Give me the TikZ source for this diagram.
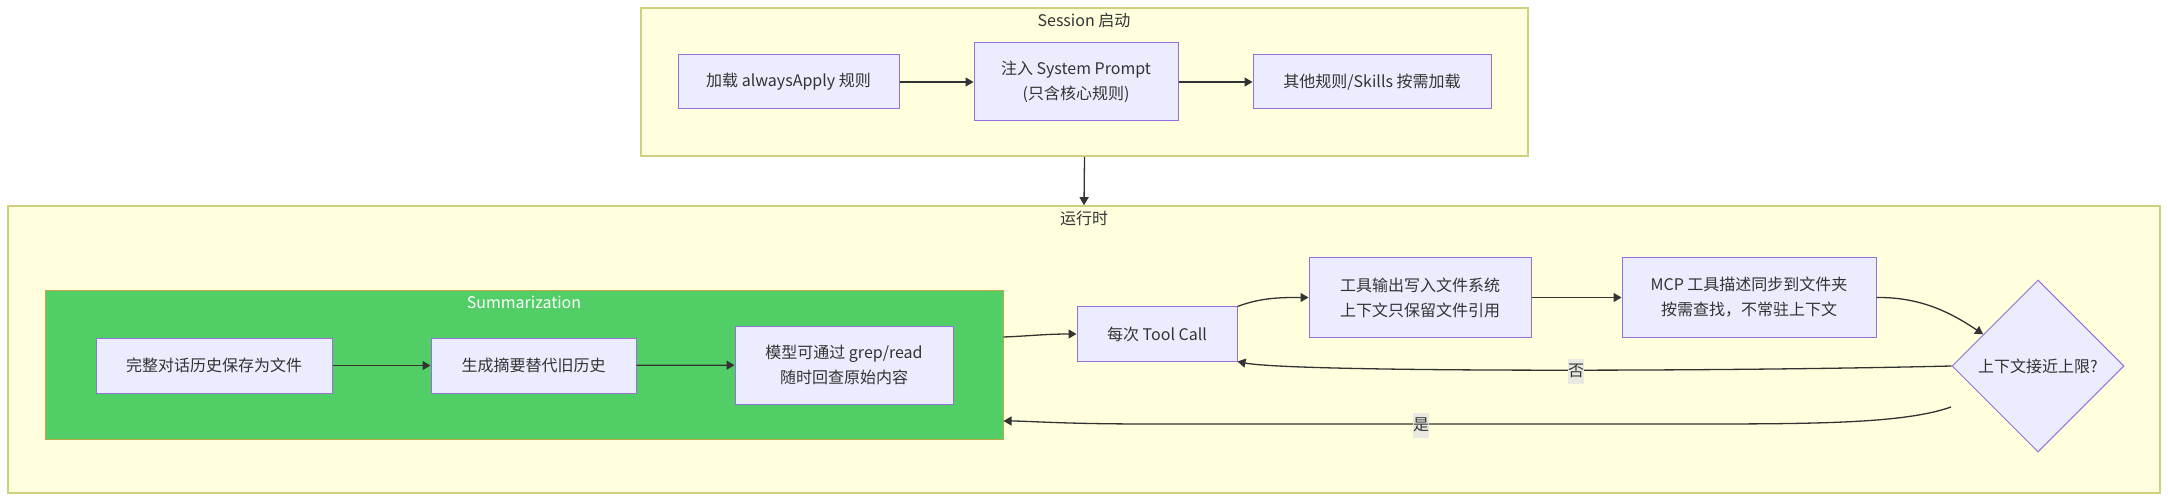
\documentclass[tikz,border=0pt]{standalone}
\usepackage{fontspec}
\setmainfont{Noto Sans CJK SC}
\usepackage{tikz}
\usetikzlibrary{
  arrows.meta,
  shapes.geometric,
  fit,
  positioning
}
\definecolor{nodefill}{HTML}{ECECFF}
\definecolor{nodeline}{HTML}{9370DB}
\definecolor{grpfill}{HTML}{FFFFDE}
\definecolor{grpline}{HTML}{CFCF80}
\definecolor{sumfill}{HTML}{51CF66}
\definecolor{sumline}{HTML}{C0A848}
\definecolor{ink}{HTML}{333333}
\definecolor{lblfill}{HTML}{E9E9E1}

\begin{document}
\begin{tikzpicture}
  [x=0.5pt, y=-0.5pt,
   every node/.style = {font=\fontsize{8}{12.5}\selectfont, text=ink},
   wh/.style 2 args = {minimum width=#1*0.5pt, minimum height=#2*0.5pt},
   box/.style = {draw=nodeline, fill=nodefill, line width=0.5pt, align=center, inner sep=0pt},
   group/.style = {draw=grpline, fill=grpfill, line width=0.8pt, inner sep=0pt},
   flow/.style = {draw=ink, line width=0.65pt, -{Triangle[length=4pt,width=4.5pt]}},
   elabel/.style = {fill=lblfill, inner sep=0pt, minimum width=8pt, minimum height=12.5pt}]
  \path[use as bounding box, fill=white] (0,0) rectangle (2168,502);
  \node (session) [group, fit={(641,8) (1528,156)}] {};
  \node (runtime) [group, fit={(8,206) (2160,493)}] {};
  \node (sumbox) [group, draw=sumline, fill=sumfill, line width=0.5pt, fit={(45,291) (1003,439)}] {};
  \node (sessiontitle) at (1084,20) {Session 启动};
  \node (runtitle) at (1084,218) {运行时};
  \node (sumtitle) [text=white] at (524,302) {Summarization};
  \node (load) [box, wh={221}{54}] at (788.5,82) {加载 alwaysApply 规则};
  \node (inject) [box, wh={204}{78}] at (1076,82) {注入 System Prompt\\(只含核心规则)};
  \node (other) [box, wh={238}{54}] at (1372,82) {其他规则/Skills 按需加载};
  \node (hist) [box, wh={236}{55}] at (214,365.5) {完整对话历史保存为文件};
  \node (summ) [box, wh={205}{55}] at (533.5,365.5) {生成摘要替代旧历史};
  \node (lookup) [box, wh={218}{78}] at (844,365) {模型可通过 grep/read\\随时回查原始内容};
  \node (toolcall) [box, wh={160}{54}] at (1157,334) {每次 Tool Call};
  \node (toolout) [box, wh={222}{79}] at (1420,297.5) {工具输出写入文件系统\\上下文只保留文件引用};
  \node (mcp) [box, wh={254}{79}] at (1749,297.5) {MCP 工具描述同步到文件夹\\按需查找，不常驻上下文};
  \node (limit) [box, diamond, aspect=1, wh={172}{172}] at (2038,366) {上下文接近上限?};
  \coordinate (yesfrom) at (1951,407);
  \draw[flow] (load) -- (inject);
  \draw[flow] (inject) -- (other);
  \draw[flow] (session.south) -- (runtime.north);
  \draw[flow] (hist) -- (summ);
  \draw[flow] (summ) -- (lookup);
  \draw[flow] ([yshift=14pt]sumbox.east) .. controls (1030,336) and (1045,334) .. (toolcall.west);
  \draw[flow] (toolcall.north east) .. controls (1262,297) and (1285,297.5) .. (toolout.west);
  \draw[flow] (toolout) -- (mcp);
  \draw[flow] (mcp.east) .. controls (1920,297) and (1950,312) .. (limit.150);
  \draw[flow] (limit.west) .. controls (1700,372) and (1290,372) .. (toolcall.south east);
  \draw[flow] (yesfrom) .. controls (1900,425) and (1800,424) .. (1650,424) -- (1150,424)
    .. controls (1060,424) and (1030,421) .. ([yshift=-28pt]sumbox.east);
  \node (no) [elabel] at (1576,371) {否};
  \node (yes) [elabel] at (1421,425) {是};
\end{tikzpicture}
\end{document}
